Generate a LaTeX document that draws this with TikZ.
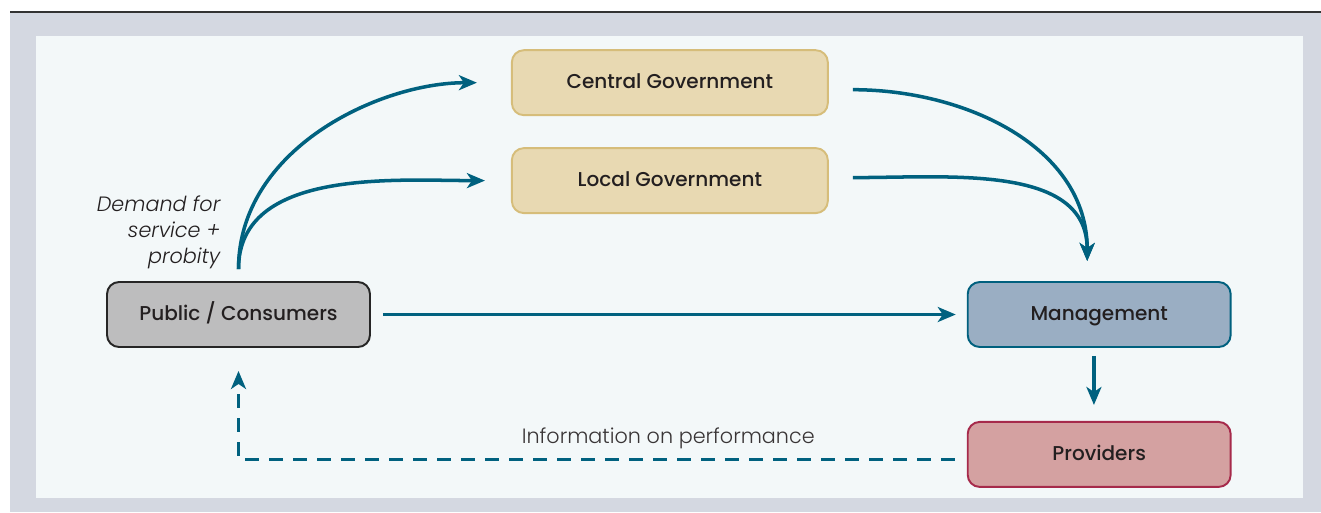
\documentclass[tikz,border=0pt]{standalone}
\usepackage{fontspec}
\setmainfont{Poppins Medium}
\newfontfamily\notefont{Poppins Light}
\usetikzlibrary{matrix,positioning,arrows.meta}

\definecolor{framegray}{HTML}{D4D8E1}
\definecolor{paneltint}{HTML}{F3F8F9}
\definecolor{flowblue}{HTML}{00617F}
\definecolor{txtdark}{HTML}{231F20}
\definecolor{govfill}{HTML}{E8D9B2}
\definecolor{govedge}{HTML}{D6BD7A}
\definecolor{pubfill}{HTML}{BDBDBE}
\definecolor{pubedge}{HTML}{262626}
\definecolor{mgmtfill}{HTML}{9AAEC3}
\definecolor{mgmtedge}{HTML}{00607E}
\definecolor{provfill}{HTML}{D4A1A1}
\definecolor{provedge}{HTML}{A62A4B}

\tikzset{
  box/.style={draw,rounded corners=0.24cm,line width=1.1pt,minimum width=5.26cm,
    minimum height=1.3cm,text height=1.7ex,text depth=0.45ex,text=txtdark,
    font=\fontsize{11.4}{13}\selectfont},
  govbox/.style={box,fill=govfill,draw=govedge,minimum width=6.32cm},
  flow/.style={color=flowblue,line width=2pt,
    -{Stealth[length=0.36cm,width=0.3cm,inset=0.1cm]}}
}

\begin{document}
\begin{tikzpicture}[x=0.02cm,y=-0.02cm]
  \useasboundingbox (0,0) rectangle (1321,512);
  % frame
  \fill[framegray] (10,12) rectangle (1321,512);
  \fill[paneltint] (36,36) rectangle (1303,498);
  \draw[line width=1.6pt,black!80] (10,12) -- (1321,12);

  \matrix (m) [matrix of nodes,row sep=0.62cm,column sep=2.8cm,
    anchor=pub.center] at (238.5,314.5)
  {
     & |[govbox] (central)| Central Government &[-0.04cm] \\
     & |[govbox] (local)| Local Government &[-0.04cm] \\[0.72cm]
     |[box,fill=pubfill,draw=pubedge] (pub)| Public / Consumers & &[-0.04cm]
       |[box,fill=mgmtfill,draw=mgmtedge] (mgmt)| Management \\[0.84cm]
     & &[-0.04cm] |[box,fill=provfill,draw=provedge] (prov)| Providers \\};

  \path[flow]
    (pub.north) edge[out=90,in=180,shorten <=0.24cm,shorten >=0.68cm] (central.west)
    (pub.north) edge[out=90,in=180,shorten <=0.24cm,shorten >=0.52cm] (local.west)
    ([shift={(24,7)}]central.east) edge[out=0,in=90] ([shift={(-12,-20)}]mgmt.north)
    ([shift={(24,-3)}]local.east) edge[out=0,in=90] ([shift={(-12,-20)}]mgmt.north)
    (pub.east) edge[shorten <=0.24cm,shorten >=0.22cm] (mgmt.west);
  \draw[flow,shorten <=0.16cm,shorten >=0.32cm]
    ([xshift=-3]mgmt.south) -- ([xshift=-3]prov.north);
  \draw[flow,dash pattern=on 0.28cm off 0.2cm,shorten >=0.46cm]
    ([shift={(-12,5)}]prov.west) -| (pub.south)
    node[pos=0.2,above=0.06cm,text=txtdark!90,font=\notefont\fontsize{11.8}{13}\selectfont]
      (info) {Information on performance};

  \node (demand) [anchor=south east,align=right,text=txtdark,
    font=\notefont\fontsize{11.8}{14.8}\selectfont\itshape] at ([shift={(-12,-6)}]pub.north)
    {Demand for\\service +\\probity};
\end{tikzpicture}
\end{document}
